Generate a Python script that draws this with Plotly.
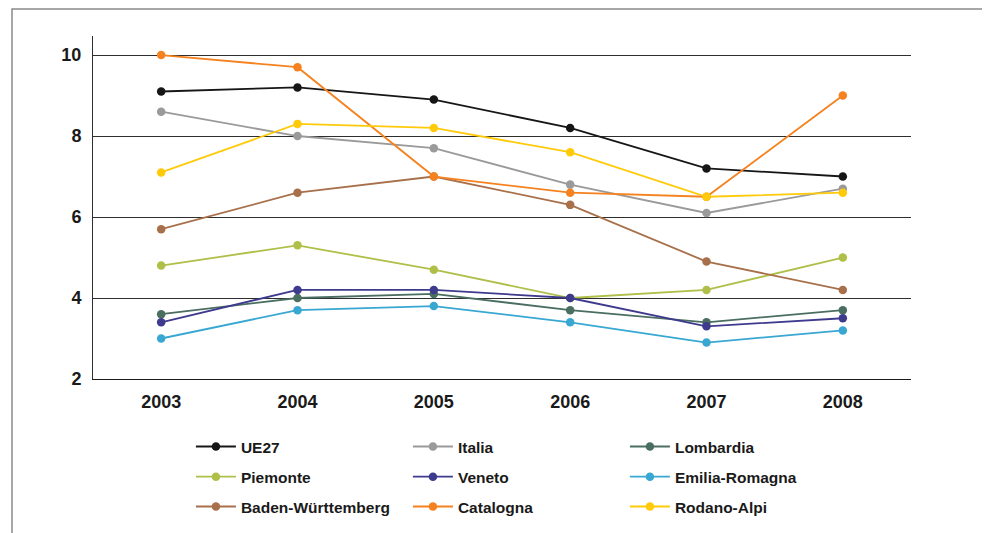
import plotly.graph_objects as go

years = ["2003", "2004", "2005", "2006", "2007", "2008"]
ue27 = [9.1, 9.2, 8.9, 8.2, 7.2, 7.0]
italia = [8.6, 8.0, 7.7, 6.8, 6.1, 6.7]
lombardia = [3.6, 4.0, 4.1, 3.7, 3.4, 3.7]
piemonte = [4.8, 5.3, 4.7, 4.0, 4.2, 5.0]
veneto = [3.4, 4.2, 4.2, 4.0, 3.3, 3.5]
emilia = [3.0, 3.7, 3.8, 3.4, 2.9, 3.2]
baden = [5.7, 6.6, 7.0, 6.3, 4.9, 4.2]
catalogna = [10.0, 9.7, 7.0, 6.6, 6.5, 9.0]
rodano = [7.1, 8.3, 8.2, 7.6, 6.5, 6.6]

series = [
    ("UE27", ue27, "#161616"),
    ("Italia", italia, "#9a9a9a"),
    ("Lombardia", lombardia, "#4a6e60"),
    ("Piemonte", piemonte, "#afbf48"),
    ("Veneto", veneto, "#3e3a8e"),
    ("Emilia-Romagna", emilia, "#38a8d2"),
    ("Baden-Württemberg", baden, "#a8704a"),
    ("Catalogna", catalogna, "#f5821f"),
    ("Rodano-Alpi", rodano, "#ffca0a"),
]

legend_ids = ["legend", "legend2", "legend3"]

fig = go.Figure()
for i, (name, vals, col) in enumerate(series):
    fig.add_trace(go.Scatter(
        x=years, y=vals, name=name, mode="lines+markers",
        line=dict(color=col, width=1.8),
        marker=dict(color=col, size=8.5),
        legend=legend_ids[i // 3],
    ))

FONT = "Liberation Sans, Arial, sans-serif"

def leg(y):
    return dict(
        orientation="h", x=0.1197, y=y, xanchor="left", yanchor="middle",
        entrywidth=162, entrywidthmode="pixels",
        font=dict(family=FONT, size=15.5, color="#1a1a1a", weight="bold"),
        itemwidth=40, traceorder="normal", bgcolor="rgba(0,0,0,0)",
    )

fig.update_layout(
    width=982, height=525,
    margin=dict(l=85, r=79, t=28, b=154, autoexpand=False),
    paper_bgcolor="white", plot_bgcolor="white",
    font=dict(family=FONT, size=15, color="#1a1a1a"),
    showlegend=True,
    legend=leg(-0.198),
    legend2=leg(-0.286),
    legend3=leg(-0.373),
    xaxis=dict(
        type="category", range=[-0.5, 5.5],
        showgrid=False, showline=True, linecolor="#1a1a1a", linewidth=1,
        ticks="", ticklabelstandoff=6,
        tickfont=dict(family=FONT, size=18, weight="bold"),
    ),
    yaxis=dict(
        range=[2, 10.47], tickvals=[2, 4, 6, 8, 10],
        showgrid=True, gridcolor="#2e2e2e", gridwidth=1,
        showline=True, linecolor="#2e2e2e", linewidth=1,
        zeroline=False, ticks="", ticklabelstandoff=7,
        tickfont=dict(family=FONT, size=18, weight="bold"),
    ),
    shapes=[dict(
        type="rect", xref="paper", yref="paper",
        x0=-0.099, x1=1.3, y0=-0.7, y1=1.079,
        line=dict(color="#8a8a8a", width=1.5), fillcolor="rgba(0,0,0,0)",
        layer="below",
    )],
)

fig.write_html("out.html")
